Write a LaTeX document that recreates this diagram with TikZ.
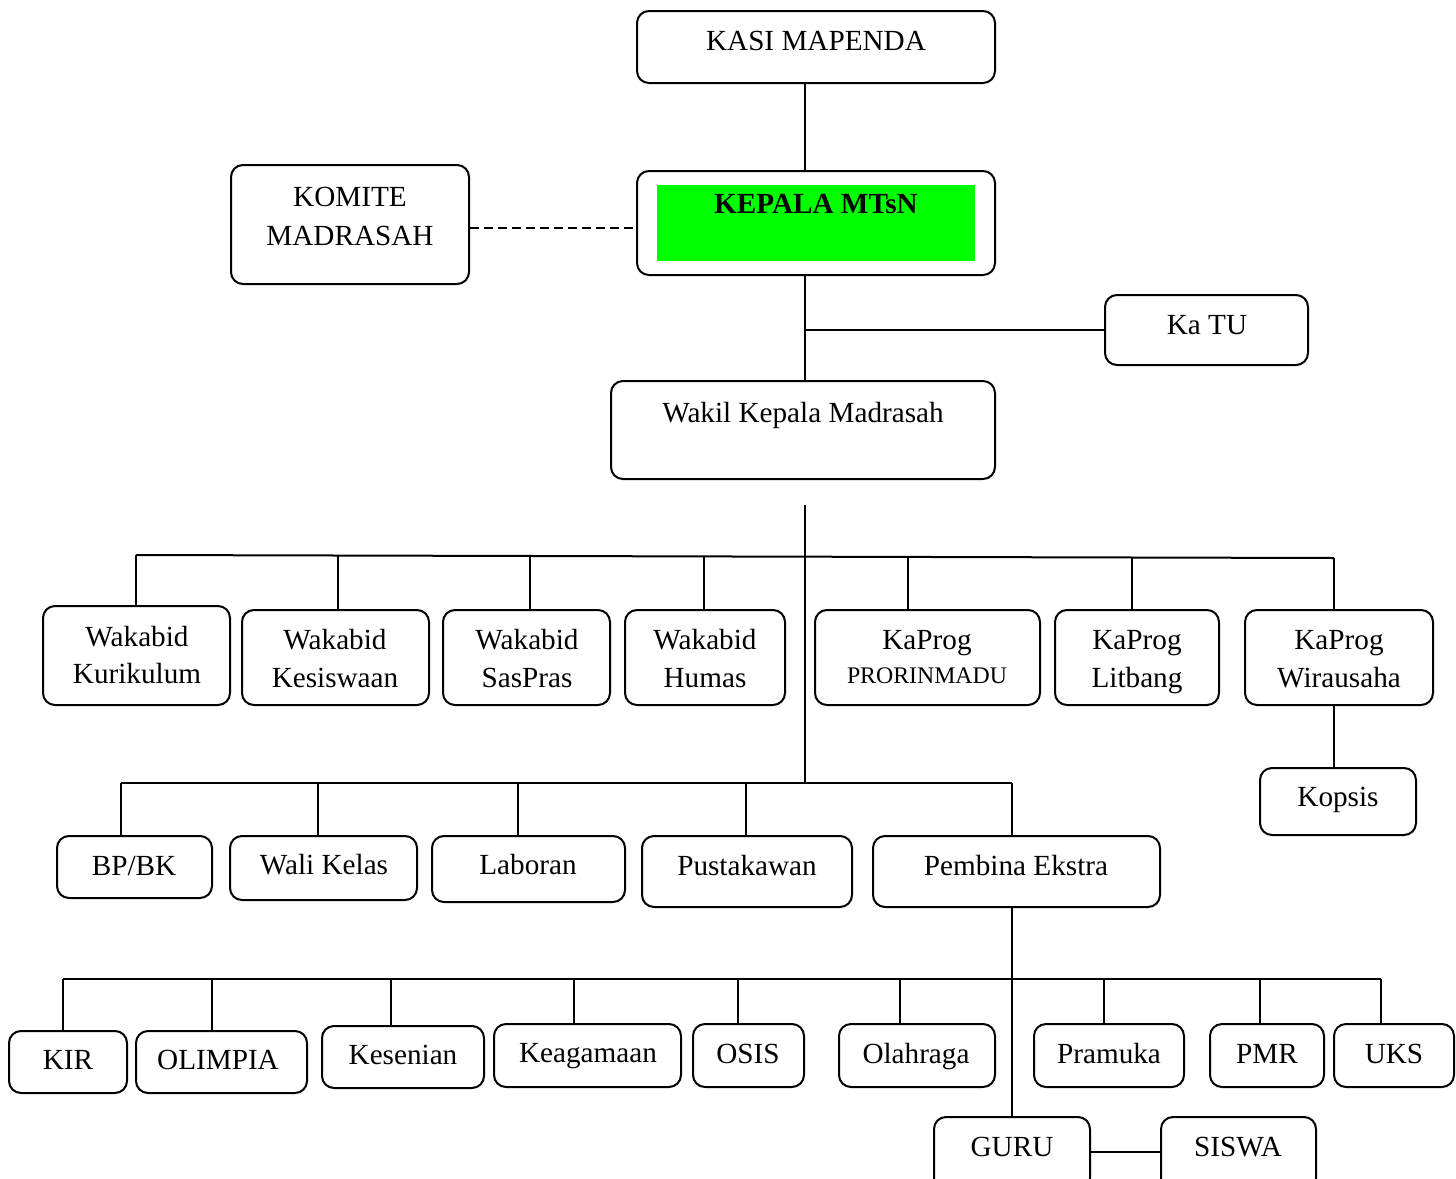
\documentclass[tikz,border=0pt]{standalone}
\usepackage{fontspec}
\setmainfont{Liberation Serif}
\usetikzlibrary{fit}
\tikzset{
  orgbox/.style={draw, line width=1pt, rounded corners=6pt, inner sep=0pt},
  lbl/.style={anchor=base, inner sep=0pt, font=\fontsize{14.6}{17}\selectfont},
  smalllbl/.style={anchor=base, inner sep=0pt, font=\fontsize{11.9}{14}\selectfont},
  conn/.style={line width=1pt},
}
\begin{document}
\begin{tikzpicture}[x={(0.5pt,0)}, y={(0,-0.5pt)}]
\useasboundingbox (0,0) rectangle (1456,1178);
\clip (0,0) rectangle (1456,1178);

% ---------- boxes ----------
\node[orgbox, fit={(637,11) (995,83)}] (kasi) {};
\node[orgbox, fit={(637,171) (995,275)}] (kepala) {};
\fill[green] (657,185) rectangle (975,261);
\node[orgbox, fit={(231,165) (469,284)}] (komite) {};
\node[orgbox, fit={(1105,295) (1308,365)}] (katu) {};
\node[orgbox, fit={(611,381) (995,479)}] (wakil) {};

\node[orgbox, fit={(43,606) (230,705)}] (kur) {};
\node[orgbox, fit={(242,610) (429,705)}] (kes) {};
\node[orgbox, fit={(443,610) (610,705)}] (sas) {};
\node[orgbox, fit={(625,610) (785,705)}] (hum) {};
\node[orgbox, fit={(815,610) (1040,705)}] (pro) {};
\node[orgbox, fit={(1055,610) (1219,705)}] (lit) {};
\node[orgbox, fit={(1245,610) (1433,705)}] (wir) {};
\node[orgbox, fit={(1260,768) (1416,835)}] (kopsis) {};

\node[orgbox, fit={(57,836) (212,898)}] (bpbk) {};
\node[orgbox, fit={(230,836) (417,900)}] (wali) {};
\node[orgbox, fit={(432,836) (625,902)}] (lab) {};
\node[orgbox, fit={(642,836) (852,907)}] (pus) {};
\node[orgbox, fit={(873,836) (1160,907)}] (pemb) {};

\node[orgbox, fit={(9,1031) (127,1093)}] (kir) {};
\node[orgbox, fit={(136,1031) (307,1093)}] (oli) {};
\node[orgbox, fit={(322,1026) (484,1088)}] (sen) {};
\node[orgbox, fit={(494,1024) (681,1087)}] (aga) {};
\node[orgbox, fit={(693,1024) (804,1087)}] (osis) {};
\node[orgbox, fit={(839,1024) (995,1087)}] (ola) {};
\node[orgbox, fit={(1034,1024) (1184,1087)}] (pra) {};
\node[orgbox, fit={(1210,1024) (1324,1087)}] (pmr) {};
\node[orgbox, fit={(1334,1024) (1454,1087)}] (uks) {};

\node[orgbox, fit={(934,1117) (1090,1190)}] (guru) {};
\node[orgbox, fit={(1161,1117) (1316,1190)}] (siswa) {};

% ---------- labels ----------
\node[lbl] (kasi-t) at (816,50) {KASI MAPENDA};
\node[lbl, font=\fontsize{14.6}{17}\selectfont\bfseries] (kepala-t) at (816,213) {KEPALA MTsN};
\node[lbl] (komite-t1) at (350,206) {KOMITE};
\node[lbl] (komite-t2) at (350,245) {MADRASAH};
\node[lbl] (katu-t) at (1207,334) {Ka TU};
\node[lbl] (wakil-t) at (803,422) {Wakil Kepala Madrasah};

\node[lbl] (kur-t1) at (137,646) {Wakabid};
\node[lbl] (kur-t2) at (137,683) {Kurikulum};
\node[lbl] (kes-t1) at (335,649) {Wakabid};
\node[lbl] (kes-t2) at (335,687) {Kesiswaan};
\node[lbl] (sas-t1) at (527,649) {Wakabid};
\node[lbl] (sas-t2) at (527,687) {SasPras};
\node[lbl] (hum-t1) at (705,649) {Wakabid};
\node[lbl] (hum-t2) at (705,687) {Humas};
\node[lbl] (pro-t1) at (927,649) {KaProg};
\node[smalllbl] (pro-t2) at (927,683) {PRORINMADU};
\node[lbl] (lit-t1) at (1137,649) {KaProg};
\node[lbl] (lit-t2) at (1137,687) {Litbang};
\node[lbl] (wir-t1) at (1339,649) {KaProg};
\node[lbl] (wir-t2) at (1339,687) {Wirausaha};
\node[lbl] (kopsis-t) at (1338,806) {Kopsis};

\node[lbl] (bpbk-t) at (134,875) {BP/BK};
\node[lbl] (wali-t) at (324,874) {Wali Kelas};
\node[lbl] (lab-t) at (528,874) {Laboran};
\node[lbl] (pus-t) at (747,875) {Pustakawan};
\node[lbl] (pemb-t) at (1016,875) {Pembina Ekstra};

\node[lbl] (kir-t) at (68,1069) {KIR};
\node[lbl] (oli-t) at (218,1069) {OLIMPIA};
\node[lbl] (sen-t) at (403,1064) {Kesenian};
\node[lbl] (aga-t) at (588,1062) {Keagamaan};
\node[lbl] (osis-t) at (748,1063) {OSIS};
\node[lbl] (ola-t) at (916,1063) {Olahraga};
\node[lbl] (pra-t) at (1109,1063) {Pramuka};
\node[lbl] (pmr-t) at (1267,1063) {PMR};
\node[lbl] (uks-t) at (1394,1063) {UKS};
\node[lbl] (guru-t) at (1012,1156) {GURU};
\node[lbl] (siswa-t) at (1238,1156) {SISWA};

% ---------- connectors ----------
\coordinate (tx) at (805,0);
\draw[conn] (kasi.south -| tx) -- (kepala.north -| tx);
\draw[conn] (kepala.south -| tx) -- (wakil.north -| tx);
\coordinate (jtu) at (805,330);
\draw[conn] (jtu) -- (katu.west);
\draw[conn, dash pattern=on 4.5pt off 2.5pt] (komite.east |- 0,228) -- (kepala.west |- 0,228);

% main trunk below Wakil
\coordinate (trA) at (805,505);
\coordinate (trB) at (805,783);
\draw[conn] (trA) -- (trB);

% bus 1
\coordinate (b1L) at (136,555);
\coordinate (b1R) at (1334,558);
\draw[conn] (b1L) -- (b1R);
\draw[conn] (b1L) -- (kur.north -| b1L);
\draw[conn] (338,555.5) -- (kes.north -| 338,0);
\draw[conn] (530,556) -- (sas.north -| 530,0);
\draw[conn] (704,556.5) -- (hum.north -| 704,0);
\draw[conn] (908,557) -- (pro.north -| 908,0);
\draw[conn] (1132,557.5) -- (lit.north -| 1132,0);
\draw[conn] (b1R) -- (wir.north -| b1R);
\draw[conn] (wir.south -| 1334,0) -- (kopsis.north -| 1334,0);

% bus 2
\coordinate (b2L) at (121,783);
\coordinate (b2R) at (1012,783);
\draw[conn] (b2L) -- (b2R);
\draw[conn] (b2L) -- (bpbk.north -| b2L);
\draw[conn] (318,783) -- (wali.north -| 318,0);
\draw[conn] (518,783) -- (lab.north -| 518,0);
\draw[conn] (746,783) -- (pus.north -| 746,0);
\draw[conn] (b2R) -- (pemb.north -| b2R);

% Pembina to GURU, bus 3
\draw[conn] (pemb.south -| guru.north) -- (guru.north);
\coordinate (b3L) at (63,979);
\coordinate (b3R) at (1381,979);
\draw[conn] (b3L) -- (b3R);
\draw[conn] (b3L) -- (kir.north -| b3L);
\draw[conn] (212,979) -- (oli.north -| 212,0);
\draw[conn] (391,979) -- (sen.north -| 391,0);
\draw[conn] (574,979) -- (aga.north -| 574,0);
\draw[conn] (738,979) -- (osis.north -| 738,0);
\draw[conn] (900,979) -- (ola.north -| 900,0);
\draw[conn] (1104,979) -- (pra.north -| 1104,0);
\draw[conn] (1260,979) -- (pmr.north -| 1260,0);
\draw[conn] (b3R) -- (uks.north -| b3R);

\draw[conn] (guru.east |- 0,1152) -- (siswa.west |- 0,1152);
\end{tikzpicture}
\end{document}
